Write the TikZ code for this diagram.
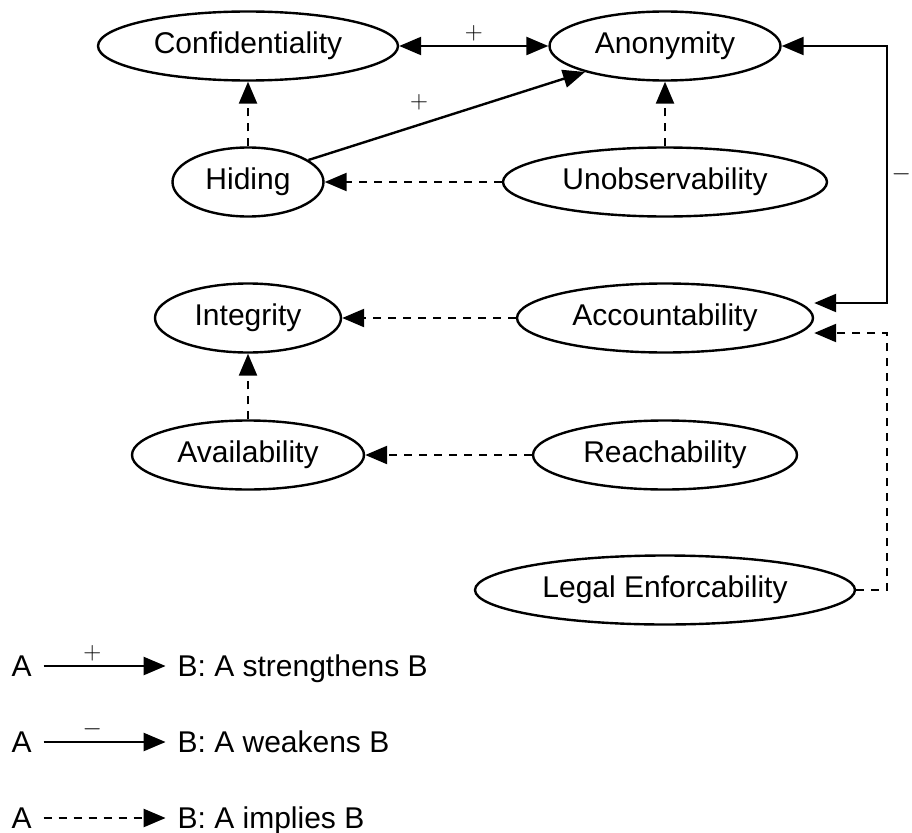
\documentclass[tikz,border=0pt]{standalone}
\usepackage[no-math]{fontspec}
\setmainfont{Liberation Sans}
\usepackage{tikz}
\usetikzlibrary{arrows.meta,positioning,shapes.geometric}

\begin{document}
\begin{tikzpicture}[x=1pt, y=-1pt, font=\fontsize{30}{36}\selectfont,
        concept/.style={ellipse, draw, line width=2.4pt, inner sep=0pt, minimum height=69pt},
        strengthens/.style={line width=2.4pt, -{Triangle[length=22pt,width=18pt]}},
        mutual/.style={line width=2.4pt, {Triangle[length=22pt,width=18pt]}-{Triangle[length=22pt,width=18pt]}},
        implies/.style={strengthens, dash pattern=on 8pt off 7pt},
        legendtext/.style={inner xsep=8pt, inner ysep=2pt, outer sep=4pt, text height=21.5pt, text depth=0pt}]
        \useasboundingbox (0,0) rectangle (912,832);

        \node[concept, minimum width=300pt] (confidentiality) at (248,46) {Confidentiality};
        \node[concept, minimum width=231pt] (anonymity) at (665,46) {Anonymity};
        \node[concept, minimum width=151pt] (hiding) at (248,182) {Hiding};
        \node[concept, minimum width=324pt] (unobservability) at (665,182) {Unobservability};
        \node[concept, minimum width=186pt] (integrity) at (248,318) {Integrity};
        \node[concept, minimum width=296pt] (accountability) at (665,318) {Accountability};
        \node[concept, minimum width=232pt] (availability) at (248,455) {Availability};
        \node[concept, minimum width=264pt] (reachability) at (665,455) {Reachability};
        \node[concept, minimum width=380pt] (legalenforcability) at (665,590) {Legal Enforcability};

        \draw[mutual] (confidentiality.east) -- node[above] {$+$} (anonymity.west);
        \draw[strengthens] (hiding.20) -- node[pos=0.4, above=10pt] {$+$} (anonymity.198);
        \draw[implies] (hiding.north) -- (confidentiality.south);
        \draw[implies] (unobservability.north) -- (anonymity.south);
        \draw[implies] (unobservability.west) -- (hiding.east);
        \draw[mutual] (anonymity.east) -| node[pos=0.75, right] {$-$} ([xshift=73pt, yshift=15pt]accountability.east) -- ([yshift=15pt]accountability.east);
        \draw[implies] (legalenforcability.east) -| ([xshift=73pt, yshift=-15pt]accountability.east) -- ([yshift=-15pt]accountability.east);
        \draw[implies] (accountability.west) -- (integrity.east);
        \draw[implies] (availability.north) -- (integrity.south);
        \draw[implies] (reachability.west) -- (availability.east);

        % legend
        \node[legendtext] (plusa) at (21.6,666) {A};
        \node[legendtext, right=122pt of plusa] (plusb) {B: A strengthens B};
        \draw[strengthens] (plusa) -- node[pos=0.4, above] {$+$} (plusb);
        \node[legendtext, below=42.5pt of plusa] (minusa) {A};
        \node[legendtext, right=122pt of minusa] (minusb) {B: A weakens B};
        \draw[strengthens] (minusa) -- node[pos=0.4, above] {$-$} (minusb);
        \node[legendtext, below=42.5pt of minusa] (implya) {A};
        \node[legendtext, right=122pt of implya] (implyb) {B: A implies B};
        \draw[implies] (implya) -- (implyb);
    \end{tikzpicture}
\end{document}
